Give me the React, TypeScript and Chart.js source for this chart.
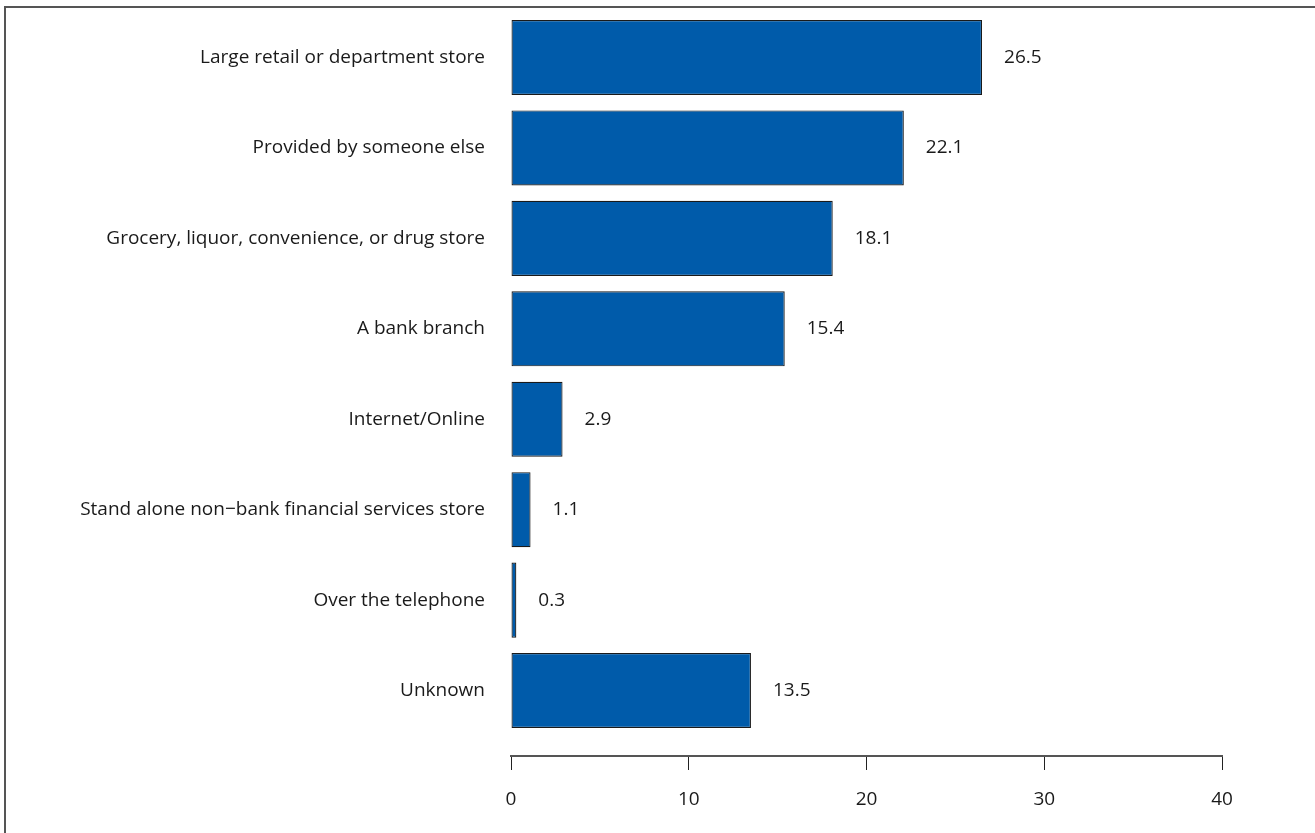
import React, { useEffect, useRef } from "react";
import { Chart, registerables } from "chart.js";

Chart.register(...registerables);

const categories = [
  "Large retail or department store",
  "Provided by someone else",
  "Grocery, liquor, convenience, or drug store",
  "A bank branch",
  "Internet/Online",
  "Stand alone non\u2212bank financial services store",
  "Over the telephone",
  "Unknown",
];
const values = [26.5, 22.1, 18.1, 15.4, 2.9, 1.1, 0.3, 13.5];
const valueLabels = ["26.5", "22.1", "18.1", "15.4", "2.9", "1.1", "0.3", "13.5"];
const xTicks = [0, 10, 20, 30, 40];

const FONT = "'Open Sans', 'Noto Sans', sans-serif";
const FONT_SIZE = 19;

const valueLabelPlugin = {
  id: "valueLabels",
  afterDatasetsDraw(chart: any) {
    const ctx = chart.ctx;
    const xs = chart.scales.x;
    const ys = chart.scales.y;
    ctx.save();
    ctx.font = `${FONT_SIZE}px ${FONT}`;
    ctx.fillStyle = "#1a1a1a";
    ctx.textAlign = "left";
    ctx.textBaseline = "middle";
    values.forEach((v, i) => {
      ctx.fillText(valueLabels[i], xs.getPixelForValue(v) + 22, ys.getPixelForValue(i));
    });
    ctx.restore();
  },
};

export default function App() {
  const ref = useRef<HTMLCanvasElement>(null);
  useEffect(() => {
    if (!ref.current) return;
    const chart: any = new Chart(ref.current, {
      type: "bar",
      data: {
        datasets: [
          {
            data: values.map((v, i) => ({ x: v, y: i })),
            backgroundColor: "#005BAA",
            borderColor: "#1a1a1a",
            borderWidth: 1.2,
            borderSkipped: false,
            categoryPercentage: 1,
            barPercentage: 0.83,
          },
        ],
      },
      options: {
        indexAxis: "y",
        animation: false,
        responsive: false,
        maintainAspectRatio: false,
        layout: { padding: { left: 0, right: 93, top: 12.3, bottom: 0 } },
        plugins: { legend: { display: false }, tooltip: { enabled: false } },
        scales: {
          x: {
            type: "linear",
            min: 0,
            max: 40,
            afterBuildTicks: (scale: any) => {
              scale.ticks = xTicks.map((v) => ({ value: v }));
            },
            afterFit: (scale: any) => {
              scale.height = 77;
            },
            border: { display: true, color: "#555", width: 2 },
            grid: {
              drawOnChartArea: false,
              drawTicks: true,
              tickLength: 14,
              tickColor: "#222",
              tickWidth: 1,
            },
            ticks: {
              padding: 18,
              color: "#1a1a1a",
              font: { family: FONT, size: FONT_SIZE },
              maxRotation: 0,
            },
          },
          y: {
            type: "linear",
            reverse: true,
            offset: false,
            min: -0.5,
            max: 7.724,
            afterBuildTicks: (scale: any) => {
              scale.ticks = categories.map((_, i) => ({ value: i }));
            },
            afterFit: (scale: any) => {
              scale.width = 511;
              scale.paddingTop = 0;
              scale.paddingBottom = 0;
            },
            border: { display: false },
            grid: { display: false, drawTicks: false, offset: false },
            ticks: {
              autoSkip: false,
              padding: 26,
              color: "#1a1a1a",
              font: { family: FONT, size: FONT_SIZE },
              callback: (v: any) => (Number.isInteger(v) && categories[v] !== undefined ? categories[v] : ""),
            },
          },
        },
      },
      plugins: [valueLabelPlugin],
    } as any);
    return () => chart.destroy();
  }, []);

  return (
    <div style={{ position: "absolute", left: 0, top: 0, width: 1315, height: 833, background: "#fff", overflow: "hidden" }}>
      <div
        style={{
          position: "absolute",
          left: 4,
          top: 6,
          width: 1400,
          height: 900,
          borderLeft: "2px solid #555",
          borderTop: "2px solid #555",
        }}
      />
      <canvas ref={ref} width={1315} height={833} style={{ position: "absolute", left: 0, top: 0 }} />
    </div>
  );
}
